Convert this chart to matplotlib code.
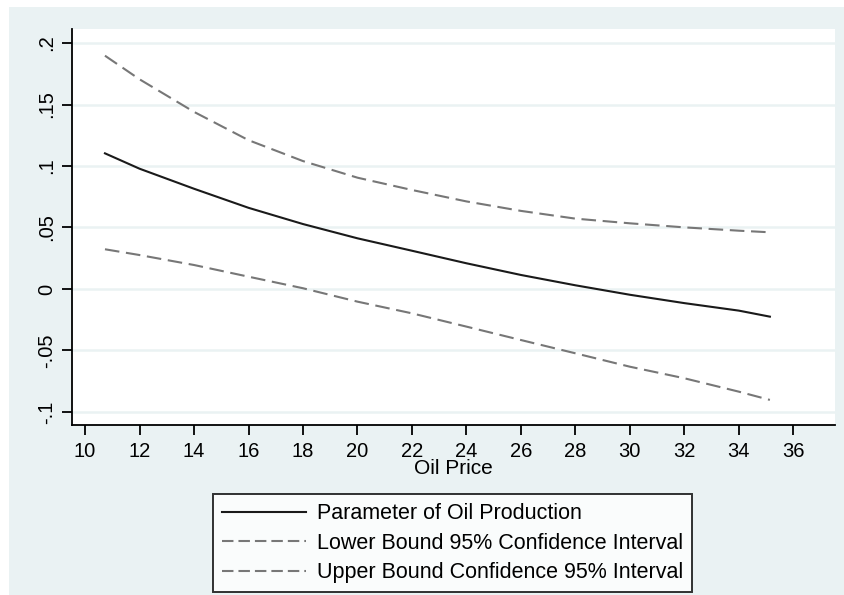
import matplotlib
matplotlib.use("Agg")
import matplotlib.pyplot as plt
from matplotlib.patches import Rectangle

# values
oil_price = [10.73, 12, 14, 16, 18, 20, 22, 24, 26, 28, 30, 32, 34, 35.14]
param = [0.1103, 0.0978, 0.0815, 0.0660, 0.0528, 0.0412, 0.0311, 0.0209,
         0.0114, 0.0030, -0.0047, -0.0115, -0.0176, -0.0225]
upper = [0.1897, 0.1705, 0.1440, 0.1210, 0.1040, 0.0905, 0.0805, 0.0712,
         0.0635, 0.0572, 0.0534, 0.0501, 0.0474, 0.0461]
lower = [0.0323, 0.0276, 0.0195, 0.0100, 0.0006, -0.0103, -0.0198, -0.0306,
         -0.0415, -0.0523, -0.0632, -0.0726, -0.0835, -0.0902]

x_ticks = list(range(10, 37, 2))
y_ticks = [-0.1, -0.05, 0, 0.05, 0.1, 0.15, 0.2]
y_labels = ["-.1", "-.05", "0", ".05", ".1", ".15", ".2"]

labels = ["Parameter of Oil Production",
          "Lower Bound 95% Confidence Interval",
          "Upper Bound Confidence 95% Interval"]

bg = "#eaf2f3"
plt.rcParams["font.family"] = ["Liberation Sans", "DejaVu Sans"]

fig = plt.figure(figsize=(8.45, 5.95), dpi=100)
fig.patches.append(Rectangle((9 / 845, 0), 1, 1 - 7 / 595, transform=fig.transFigure,
                             facecolor=bg, edgecolor="none", zorder=-10))

ax = fig.add_axes([72 / 845, (595 - 425) / 595, (835 - 72) / 845, (425 - 29) / 595])
ax.set_facecolor("white")

ax.plot(oil_price, param, color="#1a1a1a", lw=1.5, label=labels[0])
ax.plot(oil_price, lower, color="#777777", lw=1.5, dashes=(7, 3.2), label=labels[1])
ax.plot(oil_price, upper, color="#777777", lw=1.5, dashes=(7, 3.2), label=labels[2])

ax.set_xlim(9.52, 37.53)
ax.set_ylim(-0.1106, 0.2114)
ax.set_xticks(x_ticks)
ax.set_yticks(y_ticks)
ax.set_yticklabels(y_labels, rotation=90, va="center")
ax.grid(axis="y", color=bg, lw=1.8)
ax.set_axisbelow(True)

for s in ["top", "right"]:
    ax.spines[s].set_visible(False)
for s in ["left", "bottom"]:
    ax.spines[s].set_linewidth(1.3)
ax.tick_params(direction="out", length=7, width=1.3, labelsize=14.5)
ax.tick_params(axis="x", pad=5)
ax.tick_params(axis="y", pad=4, length=7.5)
ax.set_xlabel("Oil Price", fontsize=15, labelpad=-1)

leg = fig.legend(loc="upper center", bbox_to_anchor=(452.5 / 845, 1 - 494 / 595),
                 fontsize=15.5, handlelength=3.9, frameon=True, fancybox=False,
                 edgecolor="black", borderpad=0.42, labelspacing=0.4,
                 handletextpad=0.5, borderaxespad=0)
leg.get_frame().set_linewidth(1.4)
for h in leg.get_lines()[1:]:
    h.set_dashes((5.5, 2.4))

fig.savefig("out.png", dpi=100)
